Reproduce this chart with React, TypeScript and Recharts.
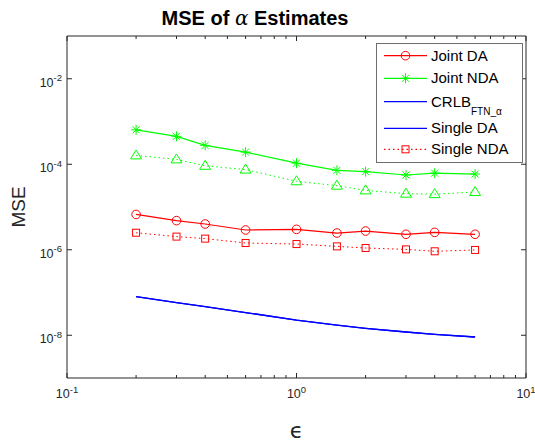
import { LineChart, Line, XAxis, YAxis, Legend } from "recharts";

// epsilon sweep
const epsValues = [0.2, 0.3, 0.4, 0.6, 1, 1.5, 2, 3, 4, 6];

// MSE per estimator
const jointDA = [6.7e-6, 4.8e-6, 4.0e-6, 2.9e-6, 3.0e-6, 2.46e-6, 2.74e-6, 2.3e-6, 2.55e-6, 2.3e-6];
const jointNDA = [6.4e-4, 4.5e-4, 2.76e-4, 1.92e-4, 1.06e-4, 7.2e-5, 6.7e-5, 5.6e-5, 6.2e-5, 5.9e-5];
const crlb = [8.0e-8, 5.8e-8, 4.65e-8, 3.4e-8, 2.26e-8, 1.72e-8, 1.45e-8, 1.19e-8, 1.05e-8, 9.1e-9];
const singleDA = [8.0e-8, 5.8e-8, 4.65e-8, 3.4e-8, 2.26e-8, 1.72e-8, 1.45e-8, 1.19e-8, 1.05e-8, 9.1e-9];
const singleNDA = [2.5e-6, 2.03e-6, 1.82e-6, 1.44e-6, 1.36e-6, 1.2e-6, 1.1e-6, 1.02e-6, 9.2e-7, 9.9e-7];
const extraNDA = [1.61e-4, 1.3e-4, 9.2e-5, 7.5e-5, 4.0e-5, 3.15e-5, 2.45e-5, 2.05e-5, 2.0e-5, 2.24e-5];

// axis ticks (log decades + minor x ticks)
const xTicks = [0.1, 0.2, 0.3, 0.4, 0.5, 0.6, 0.7, 0.8, 0.9, 1, 2, 3, 4, 5, 6, 7, 8, 9, 10];
const xMajor = [0.1, 1, 10];
const yTicks = [1e-8, 1e-6, 1e-4, 1e-2];

const data = epsValues.map((eps, i) => ({
  eps,
  jointDA: jointDA[i],
  jointNDA: jointNDA[i],
  crlb: crlb[i],
  singleDA: singleDA[i],
  singleNDA: singleNDA[i],
  extraNDA: extraNDA[i],
}));

const AXIS = "#262626";
const RED = "#ff0000";
const GREEN = "#00ff00";
const BLUE = "#0000ff";
const FONT = "'Liberation Sans', Arial, sans-serif";

const Circle = ({ cx, cy }: any) => (
  <circle cx={cx} cy={cy} r={4.3} fill="none" stroke={RED} strokeWidth={1} />
);
const Square = ({ cx, cy }: any) => (
  <rect x={cx - 3.5} y={cy - 3.5} width={7} height={7} fill="none" stroke={RED} strokeWidth={1} />
);
const Triangle = ({ cx, cy }: any) => (
  <path d={`M${cx},${cy - 5.5} L${cx + 5.5},${cy + 3.5} L${cx - 5.5},${cy + 3.5} Z`} fill="none" stroke={GREEN} strokeWidth={1} />
);
const Star = ({ cx, cy }: any) => {
  const r = 5;
  const d = r * 0.707;
  return (
    <g stroke={GREEN} strokeWidth={1}>
      <line x1={cx - r} y1={cy} x2={cx + r} y2={cy} />
      <line x1={cx} y1={cy - r} x2={cx} y2={cy + r} />
      <line x1={cx - d} y1={cy - d} x2={cx + d} y2={cy + d} />
      <line x1={cx - d} y1={cy + d} x2={cx + d} y2={cy - d} />
    </g>
  );
};

const exp = (v: number) => String(Math.round(Math.log10(v)));

const BottomTick = ({ x, y, payload }: any) => {
  const v = payload.value;
  const major = xMajor.includes(v);
  return (
    <g>
      <line x1={x} x2={x} y1={y} y2={y - (major ? 5 : 3)} stroke={AXIS} />
      {major && (
        <text x={x} y={y + 20} textAnchor="middle" fontFamily={FONT} fontSize={12.5} fill={AXIS}>
          10<tspan dy={-5.5} fontSize={9.5}>{exp(v)}</tspan>
        </text>
      )}
    </g>
  );
};

const TopTick = ({ x, y, payload }: any) => {
  const major = xMajor.includes(payload.value);
  return <line x1={x} x2={x} y1={y} y2={y + (major ? 5 : 3)} stroke={AXIS} />;
};

const LeftTick = ({ x, y, payload }: any) => (
  <g>
    <line x1={x} x2={x + 5} y1={y} y2={y} stroke={AXIS} />
    <text x={x - 5} y={y + 8} textAnchor="end" fontFamily={FONT} fontSize={12.5} fill={AXIS}>
      10<tspan dy={-5.5} fontSize={9.5}>{exp(payload.value)}</tspan>
    </text>
  </g>
);

const RightTick = ({ x, y }: any) => <line x1={x} x2={x - 5} y1={y} y2={y} stroke={AXIS} />;

const legendRows = [
  { label: "Joint DA", color: RED, dash: undefined, marker: Circle, y: 12.7 },
  { label: "Joint NDA", color: GREEN, dash: undefined, marker: Star, y: 35.3 },
  { label: "CRLB", sub: "FTN_α", color: BLUE, dash: undefined, marker: null, y: 58.7 },
  { label: "Single DA", color: BLUE, dash: undefined, marker: null, y: 85.3 },
  { label: "Single NDA", color: RED, dash: "1.5 3", marker: Square, y: 106.3 },
];

const renderLegend = () => (
  <svg width={147} height={120} style={{ display: "block" }}>
    <rect x={0.5} y={0.5} width={146} height={119} fill="#fff" stroke="#6e6e6e" strokeWidth={1} />
    {legendRows.map((row) => {
      const M = row.marker;
      return (
        <g key={row.label}>
          <line x1={8} x2={51} y1={row.y} y2={row.y} stroke={row.color} strokeWidth={1.2} strokeDasharray={row.dash} />
          {M && <M cx={29.5} cy={row.y} />}
          <text x={55} y={row.y + 5} fontFamily={FONT} fontSize={15} fill="#000">
            {row.label}
            {row.sub && (
              <tspan dy={8} fontSize={10}>
                {row.sub}
              </tspan>
            )}
          </text>
        </g>
      );
    })}
  </svg>
);

export default function App() {
  return (
    <div style={{ position: "absolute", left: 0, top: 0, width: 535, height: 444, background: "#fff" }}>
      <LineChart width={535} height={444} data={data} margin={{ top: 35, right: 8, bottom: 0, left: 0 }}>
        <XAxis
          xAxisId="x"
          dataKey="eps"
          type="number"
          scale="log"
          domain={[0.1, 10]}
          allowDataOverflow
          ticks={xTicks}
          interval={0}
          tickSize={0}
          tickMargin={0}
          tickLine={false}
          axisLine={{ stroke: AXIS }}
          tick={<BottomTick />}
          height={66}
        />
        <XAxis
          xAxisId="top"
          orientation="top"
          dataKey="eps"
          type="number"
          scale="log"
          domain={[0.1, 10]}
          allowDataOverflow
          ticks={xTicks}
          interval={0}
          tickSize={0}
          tickMargin={0}
          tickLine={false}
          axisLine={{ stroke: AXIS }}
          tick={<TopTick />}
          height={1}
        />
        <YAxis
          yAxisId="y"
          type="number"
          scale="log"
          domain={[1e-9, 1e-1]}
          allowDataOverflow
          ticks={yTicks}
          interval={0}
          tickSize={0}
          tickMargin={0}
          tickLine={false}
          axisLine={{ stroke: AXIS }}
          tick={<LeftTick />}
          width={67}
        />
        <YAxis
          yAxisId="right"
          orientation="right"
          type="number"
          scale="log"
          domain={[1e-9, 1e-1]}
          allowDataOverflow
          ticks={yTicks}
          interval={0}
          tickSize={0}
          tickMargin={0}
          tickLine={false}
          axisLine={{ stroke: AXIS }}
          tick={<RightTick />}
          width={1}
        />
        <Legend
          layout="vertical"
          align="center"
          verticalAlign="middle"
          content={renderLegend}
          wrapperStyle={{ position: "absolute", left: 376, top: 43, width: 147, height: 120 }}
        />
        <Line xAxisId="x" yAxisId="y" dataKey="crlb" stroke={BLUE} strokeWidth={1.3} dot={false} isAnimationActive={false} />
        <Line xAxisId="x" yAxisId="y" dataKey="singleDA" stroke={BLUE} strokeWidth={1.3} dot={false} isAnimationActive={false} />
        <Line xAxisId="x" yAxisId="y" dataKey="extraNDA" stroke={GREEN} strokeWidth={1} strokeDasharray="1.5 3" dot={<Triangle />} isAnimationActive={false} />
        <Line xAxisId="x" yAxisId="y" dataKey="singleNDA" stroke={RED} strokeWidth={1} strokeDasharray="1.5 3" dot={<Square />} isAnimationActive={false} />
        <Line xAxisId="x" yAxisId="y" dataKey="jointNDA" stroke={GREEN} strokeWidth={1.2} dot={<Star />} isAnimationActive={false} />
        <Line xAxisId="x" yAxisId="y" dataKey="jointDA" stroke={RED} strokeWidth={1.2} dot={<Circle />} isAnimationActive={false} />
      </LineChart>
      <svg width={535} height={444} style={{ position: "absolute", left: 0, top: 0, pointerEvents: "none" }}>
        <text x={255} y={25} textAnchor="middle" fontFamily={FONT} fontSize={20} fontWeight="bold" fill="#000">
          MSE of <tspan fontFamily="'DejaVu Serif', serif" fontStyle="italic" fontWeight="normal">α</tspan> Estimates
        </text>
        <text x={25} y={207} textAnchor="middle" transform="rotate(-90 25 207)" fontFamily={FONT} fontSize={19} fill={AXIS}>
          MSE
        </text>
        <text x={296.5} y={438} textAnchor="middle" fontFamily="'DejaVu Sans', sans-serif" fontSize={22} fill={AXIS}>
          ϵ
        </text>
      </svg>
    </div>
  );
}
